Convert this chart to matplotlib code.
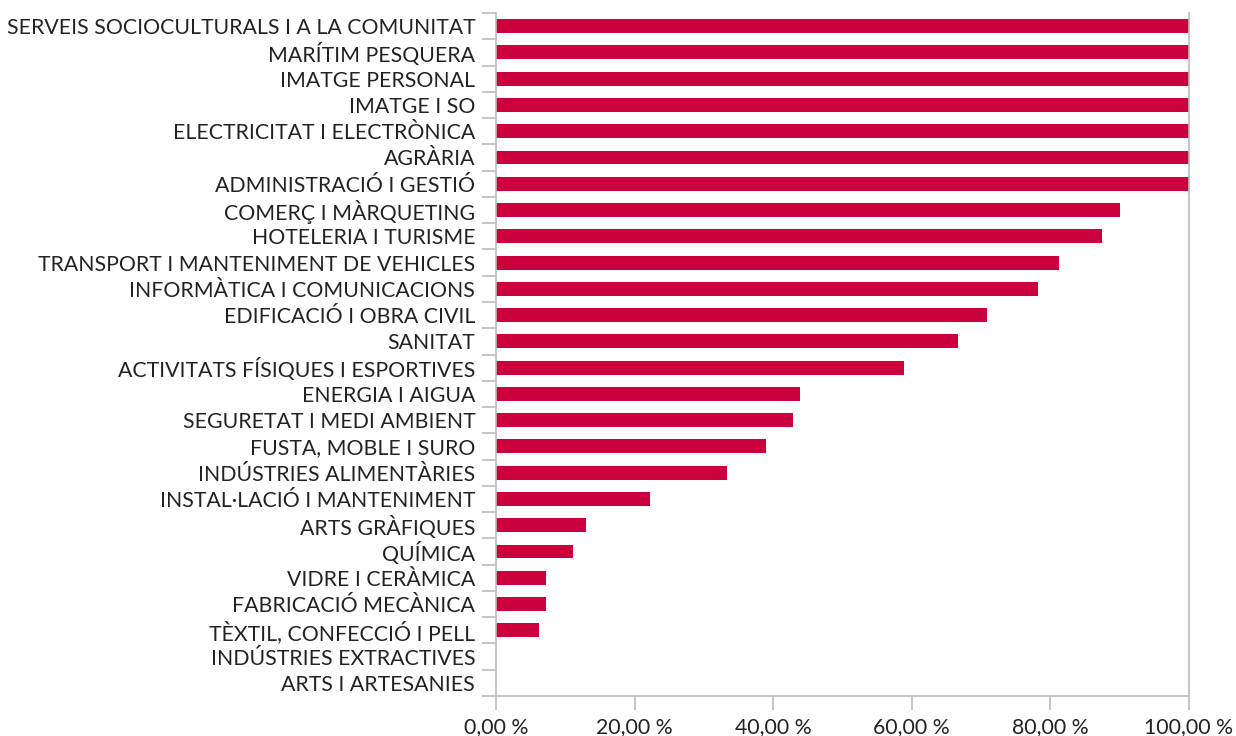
import matplotlib
matplotlib.use("Agg")
import matplotlib.pyplot as plt
from matplotlib.ticker import FixedLocator, FuncFormatter

categories = [
    "SERVEIS SOCIOCULTURALS I A LA COMUNITAT",
    "MARÍTIM PESQUERA",
    "IMATGE PERSONAL",
    "IMATGE I SO",
    "ELECTRICITAT I ELECTRÒNICA",
    "AGRÀRIA",
    "ADMINISTRACIÓ I GESTIÓ",
    "COMERÇ I MÀRQUETING",
    "HOTELERIA I TURISME",
    "TRANSPORT I MANTENIMENT DE VEHICLES",
    "INFORMÀTICA I COMUNICACIONS",
    "EDIFICACIÓ I OBRA CIVIL",
    "SANITAT",
    "ACTIVITATS FÍSIQUES I ESPORTIVES",
    "ENERGIA I AIGUA",
    "SEGURETAT I MEDI AMBIENT",
    "FUSTA, MOBLE I SURO",
    "INDÚSTRIES ALIMENTÀRIES",
    "INSTAL·LACIÓ I MANTENIMENT",
    "ARTS GRÀFIQUES",
    "QUÍMICA",
    "VIDRE I CERÀMICA",
    "FABRICACIÓ MECÀNICA",
    "TÈXTIL, CONFECCIÓ I PELL",
    "INDÚSTRIES EXTRACTIVES",
    "ARTS I ARTESANIES",
]
values = [100, 100, 100, 100, 100, 100, 100,
          90.1, 87.5, 81.3, 78.2, 70.9, 66.7, 58.9,
          43.8, 42.9, 39.0, 33.4, 22.2, 13.0, 11.1,
          7.2, 7.2, 6.2, 0, 0]
xticks = [0, 20, 40, 60, 80, 100]

plt.rcParams['font.family'] = ['Lato', 'DejaVu Sans']

fig = plt.figure(figsize=(12.36, 7.36), dpi=100)
ax = fig.add_axes([496/1236, 1 - 696/736, (1189-496)/1236, (696-13)/736])

n = len(categories)
ypos = list(range(n))
ax.barh(ypos, values, height=0.53, color="#CC003D", zorder=2)
ax.set_ylim(n - 0.5, -0.5)
ax.set_xlim(0, 100)

ax.set_yticks(ypos)
ax.set_yticklabels(categories, fontsize=15.3, color="#222222")
ax.yaxis.set_minor_locator(FixedLocator([i - 0.5 for i in range(n + 1)]))
ax.tick_params(axis='y', which='major', length=0, pad=15)
ax.tick_params(axis='y', which='minor', length=10, color="#BBBBBB", width=1.2)

ax.set_xticks(xticks)
ax.xaxis.set_major_formatter(FuncFormatter(lambda v, p: f"{v:.2f}".replace('.', ',') + " %"))
ax.tick_params(axis='x', length=10, color="#BBBBBB", width=1.2, labelsize=15.3,
               labelcolor="#222222", pad=5)

ax.spines['top'].set_visible(False)
for s in ['left', 'bottom', 'right']:
    ax.spines[s].set_color("#BBBBBB")
    ax.spines[s].set_linewidth(1.2)

fig.savefig("out.png", dpi=100)
